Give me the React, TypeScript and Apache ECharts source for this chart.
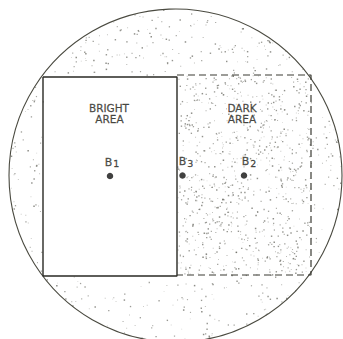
import React, { useEffect, useRef } from "react";
import * as echarts from "echarts";

// Scene extents (pixel-like units of the figure)
const sceneWidth = 343;
const sceneHeight = 339;

// Field of view (circle)
const fieldCenter = [175.5, 175.5];
const fieldRadius = 166.5;

// Bright area (solid outline) and dark area (dashed outline)
const brightRectX = [43, 177, 177, 43, 43];
const brightRectY = [77, 77, 276, 276, 77];
const darkRectX = [177, 311, 311, 177];
const darkRectY = [75, 75, 275, 275];

// Measurement points
const pointNames = ["1", "3", "2"];
const pointX = [110, 182.5, 244];
const pointY = [176, 175.5, 175.5];
const pointLabelDx = [2, 3.5, 5];

// Area captions (one entry per text line)
const captionLines = ["BRIGHT", "AREA", "DARK", "AREA"];
const captionX = [109, 109.5, 242, 242];
const captionY = [108, 119, 107.5, 118.5];

const INK = "#2a2a24";

function hash(n: number) {
  const v = Math.sin(n * 12.9898 + 78.233) * 43758.5453;
  return v - Math.floor(v);
}

function stipple(): any[] {
  const out: any[] = [];
  const [cx, cy] = fieldCenter;
  const r = fieldRadius;
  let k = 1;
  // dark area: denser
  for (let i = 0; i < 1400; i++) {
    const x = darkRectX[0] + hash(k++) * (darkRectX[1] - darkRectX[0]);
    const y = darkRectY[0] + hash(k++) * (darkRectY[2] - darkRectY[0]);
    const keep = hash(k++);
    const patch = 0.5 + 0.5 * Math.sin(x * 0.05) * Math.cos(y * 0.045);
    if (keep > 0.4 + 0.5 * patch) continue;
    out.push(dot(x, y, hash(k++)));
  }
  // outer region inside circle
  for (let i = 0; i < 2000; i++) {
    const a = hash(k++) * Math.PI * 2;
    const rr = Math.sqrt(hash(k++)) * r;
    const x = cx + rr * Math.cos(a);
    const y = cy + rr * Math.sin(a);
    const keep = hash(k++);
    if (x > brightRectX[0] && x < darkRectX[1] && y > darkRectY[0] && y < brightRectY[2]) continue;
    if (y > sceneHeight) continue;
    const edge = rr / r;
    const side = y < cy ? 0.12 : 0;
    if (keep > 0.12 + side + 0.35 * edge) continue;
    out.push(dot(x, y, hash(k++)));
  }
  return out;
}

function dot(x: number, y: number, s: number) {
  const size = 0.8 + s * 0.7;
  return {
    type: "rect",
    silent: true,
    shape: { x: x, y: y, width: size, height: size },
    style: { fill: "#66665e", opacity: 0.3 + s * 0.45 },
    z: 1,
  };
}

export default function App() {
  const ref = useRef<HTMLDivElement>(null);
  useEffect(() => {
    if (!ref.current) return;
    const chart = echarts.init(ref.current, undefined, { renderer: "svg" });
    const brightData = brightRectX.map((x, i) => [x, brightRectY[i]]);
    const darkData = darkRectX.map((x, i) => [x, darkRectY[i]]);
    const pts = pointX.map((x, i) => ({
      value: [x, pointY[i]],
      label: {
        offset: [pointLabelDx[i], 0],
        formatter: "{b|B}{s|" + pointNames[i] + "}",
      },
    }));
    chart.setOption({
      animation: false,
      backgroundColor: "#ffffff",
      grid: { left: 0, right: 0, top: 0, bottom: 0 },
      xAxis: { type: "value", min: 0, max: sceneWidth, show: false },
      yAxis: { type: "value", min: 0, max: sceneHeight, inverse: true, show: false },
      graphic: [
        {
          type: "circle",
          silent: true,
          shape: { cx: fieldCenter[0], cy: fieldCenter[1], r: fieldRadius },
          style: { fill: "none", stroke: "#4a4a40", lineWidth: 1.1 },
          z: 2,
        },
        ...stipple(),
      ],
      series: [
        {
          type: "line",
          data: brightData,
          symbol: "none",
          silent: true,
          lineStyle: { color: INK, width: 1.4 },
          z: 5,
        },
        {
          type: "line",
          data: darkData,
          symbol: "none",
          silent: true,
          lineStyle: { color: "#3a3a32", width: 1.2, type: [7, 4] },
          z: 5,
        },
        {
          type: "scatter",
          data: pts,
          symbol: "circle",
          symbolSize: 6.5,
          silent: true,
          itemStyle: { color: "#111110" },
          z: 6,
          label: {
            show: true,
            position: "top",
            distance: 4,
            color: INK,
            rich: {
              b: { fontFamily: "DejaVu Sans", fontSize: 11, color: INK, textBorderColor: INK, textBorderWidth: 0.3 },
              s: { fontFamily: "DejaVu Sans", fontSize: 9.5, color: INK, padding: [3, 0, 0, 1], textBorderColor: INK, textBorderWidth: 0.3 },
            },
          },
        },
        {
          type: "scatter",
          data: captionX.map((x, i) => ({ value: [x, captionY[i]], name: captionLines[i] })),
          symbolSize: 0,
          silent: true,
          z: 6,
          label: {
            show: true,
            position: "inside",
            formatter: (p: any) => p.name,
            fontFamily: "DejaVu Sans",
            fontSize: 10.5,
            lineHeight: 10,
            color: INK,
            textBorderColor: INK,
            textBorderWidth: 0.3,
            align: "center",
            verticalAlign: "middle",
          },
        },
      ],
    });
    return () => chart.dispose();
  }, []);
  return (
    <div
      ref={ref}
      style={{ position: "fixed", left: 0, top: 0, width: sceneWidth, height: sceneHeight }}
    />
  );
}
